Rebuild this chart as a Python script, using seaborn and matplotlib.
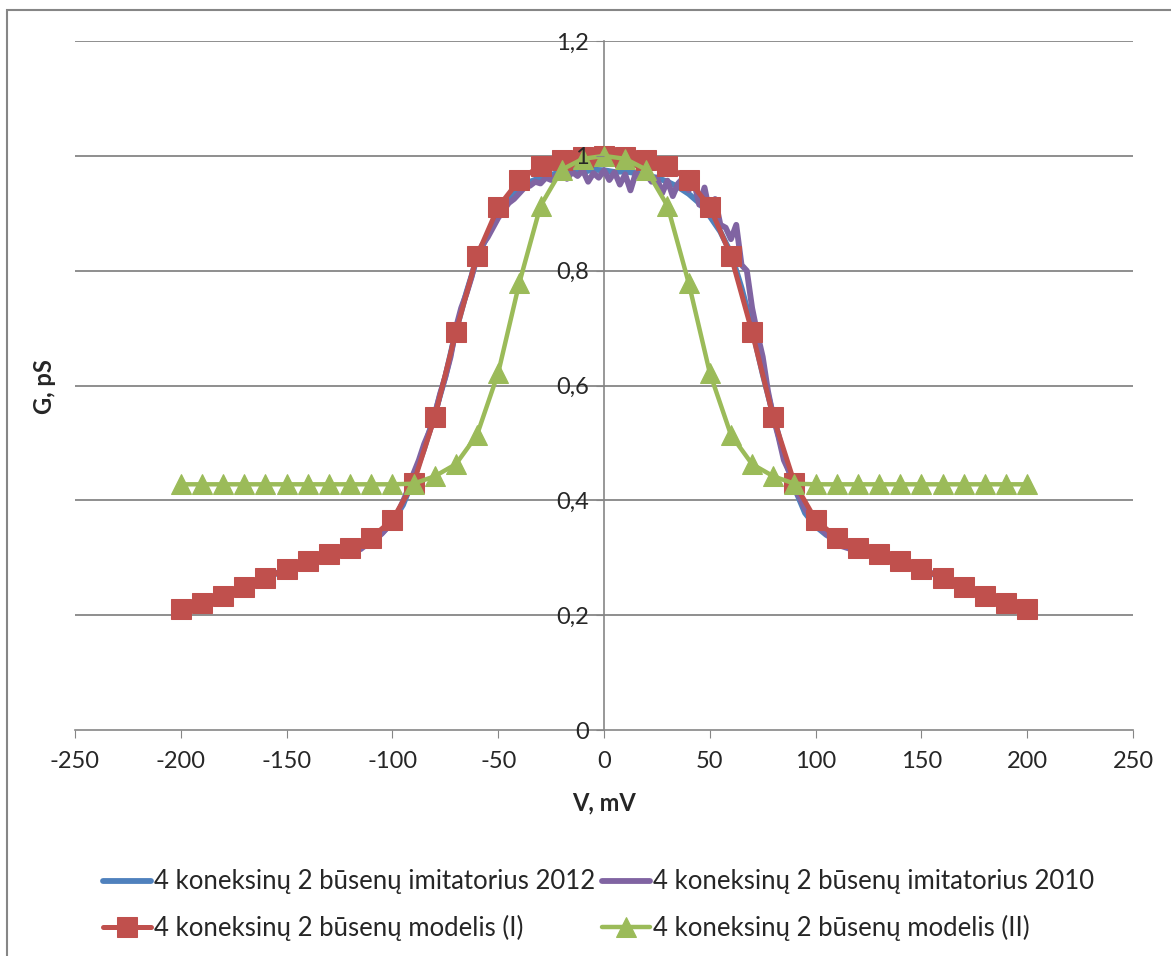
import matplotlib.pyplot as plt
import matplotlib.patches as patches
import numpy as np
import pandas as pd
import seaborn as sns

# Style
sns.set_style("white")
plt.rcParams['font.family'] = ['Lato', 'DejaVu Sans']
plt.rcParams['axes.unicode_minus'] = False

# Series names
labels = ['4 koneksinų 2 būsenų imitatorius 2012',
          '4 koneksinų 2 būsenų imitatorius 2010',
          '4 koneksinų 2 būsenų modelis (I)',
          '4 koneksinų 2 būsenų modelis (II)']
colors = ['#4F81BD', '#8064A2', '#C0504D', '#9BBB59']

# Imitator 2012 (read every 5 mV)
v_2012 = np.arange(-200, 201, 5)
g_2012 = [0.211, 0.216, 0.222, 0.228, 0.235, 0.242, 0.249, 0.257,
          0.265, 0.272, 0.280, 0.288, 0.295, 0.301, 0.307, 0.312,
          0.317, 0.321, 0.330, 0.343, 0.362, 0.392, 0.438, 0.490,
          0.550, 0.615, 0.695, 0.762, 0.822, 0.862, 0.900, 0.928,
          0.943, 0.955, 0.962, 0.967, 0.972, 0.974, 0.972, 0.976,
          0.975, 0.972, 0.973, 0.970, 0.966, 0.962, 0.955, 0.946,
          0.934, 0.918, 0.895, 0.868, 0.830, 0.770, 0.700, 0.620,
          0.548, 0.478, 0.422, 0.378, 0.355, 0.340, 0.330, 0.322,
          0.316, 0.311, 0.306, 0.300, 0.294, 0.288, 0.280, 0.272,
          0.265, 0.257, 0.249, 0.242, 0.235, 0.228, 0.222, 0.216,
          0.211]

# Imitator 2010 (read every 2.5 mV)
v_2010 = np.arange(-200, 200.1, 2.5)
g_2010 = [0.212, 0.214, 0.217, 0.219, 0.222, 0.226, 0.229, 0.232,
          0.236, 0.240, 0.243, 0.247, 0.251, 0.255, 0.258, 0.262,
          0.266, 0.270, 0.273, 0.277, 0.281, 0.285, 0.288, 0.292,
          0.295, 0.298, 0.300, 0.303, 0.306, 0.309, 0.311, 0.314,
          0.316, 0.318, 0.315, 0.322, 0.330, 0.334, 0.342, 0.352,
          0.362, 0.378, 0.398, 0.420, 0.447, 0.470, 0.498, 0.520,
          0.548, 0.585, 0.615, 0.650, 0.700, 0.735, 0.760, 0.790,
          0.828, 0.845, 0.858, 0.875, 0.892, 0.905, 0.918, 0.925,
          0.935, 0.945, 0.948, 0.955, 0.952, 0.962, 0.958, 0.966,
          0.968, 0.960, 0.972, 0.965, 0.975, 0.955, 0.970, 0.962,
          0.975, 0.958, 0.972, 0.950, 0.968, 0.940, 0.970, 0.962,
          0.968, 0.955, 0.962, 0.935, 0.957, 0.930, 0.952, 0.962,
          0.940, 0.955, 0.915, 0.945, 0.900, 0.925, 0.880, 0.875,
          0.855, 0.880, 0.810, 0.800, 0.735, 0.690, 0.650, 0.590,
          0.545, 0.510, 0.470, 0.450, 0.420, 0.405, 0.385, 0.372,
          0.362, 0.350, 0.342, 0.333, 0.326, 0.320, 0.317, 0.314,
          0.316, 0.313, 0.311, 0.309, 0.306, 0.303, 0.300, 0.297,
          0.295, 0.292, 0.288, 0.285, 0.281, 0.277, 0.273, 0.270,
          0.266, 0.262, 0.258, 0.255, 0.251, 0.247, 0.243, 0.240,
          0.236, 0.232, 0.229, 0.226, 0.222, 0.219, 0.216, 0.214,
          0.212]

# Models, every 10 mV
v_model = np.arange(-200, 201, 10)
g_model1 = [0.211, 0.221, 0.234, 0.249, 0.265, 0.281, 0.295, 0.306, 0.317, 0.335,
            0.366, 0.430, 0.545, 0.693, 0.826, 0.911, 0.958, 0.983, 0.993, 0.998,
            1.000,
            0.998, 0.993, 0.983, 0.958, 0.911, 0.826, 0.693, 0.545, 0.430, 0.366,
            0.335, 0.317, 0.306, 0.295, 0.281, 0.265, 0.249, 0.234, 0.221, 0.211]
g_model2 = [0.428, 0.428, 0.428, 0.428, 0.428, 0.428, 0.428, 0.428, 0.428, 0.428,
            0.428, 0.429, 0.442, 0.463, 0.514, 0.622, 0.779, 0.913, 0.976, 0.995,
            1.000,
            0.995, 0.976, 0.913, 0.779, 0.622, 0.514, 0.463, 0.442, 0.429, 0.428,
            0.428, 0.428, 0.428, 0.428, 0.428, 0.428, 0.428, 0.428, 0.428, 0.428]

y_ticks = [0, 0.2, 0.4, 0.6, 0.8, 1.0, 1.2]
y_tick_labels = ['0', '0,2', '0,4', '0,6', '0,8', '1', '1,2']
x_ticks = [-250, -200, -150, -100, -50, 0, 50, 100, 150, 200, 250]

fig = plt.figure(figsize=(11.71, 9.56), dpi=100)
ax = fig.add_axes([0.064, 0.2364, 0.9036, 0.7206])

# Horizontal gridlines behind everything
for yv in y_ticks[1:]:
    ax.axhline(yv, color='#868686', linewidth=1.3, zorder=0.5)

# Plot the four series
sns.lineplot(x=v_2012, y=g_2012, ax=ax, color=colors[0], linewidth=4.2, label=labels[0])
sns.lineplot(x=v_2010, y=g_2010, ax=ax, color=colors[1], linewidth=4.2, label=labels[1])
sns.lineplot(x=v_model, y=g_model1, ax=ax, color=colors[2], linewidth=3.6,
             marker='s', markersize=14, markeredgecolor=colors[2], label=labels[2])
sns.lineplot(x=v_model, y=g_model2, ax=ax, color=colors[3], linewidth=3.2,
             marker='^', markersize=14, markeredgecolor=colors[3], label=labels[3])

# Axes: y axis crosses at x = 0
ax.set_xlim(-250, 250)
ax.set_ylim(0, 1.2)
ax.spines['left'].set_position(('data', 0))
for s in ['top', 'right']:
    ax.spines[s].set_visible(False)
for s in ['left', 'bottom']:
    ax.spines[s].set_color('#868686')
    ax.spines[s].set_linewidth(1.2)
    ax.spines[s].set_zorder(0.6)
ax.set_yticks(y_ticks)
ax.set_yticklabels(y_tick_labels)
ax.set_xticks(x_ticks)
ax.tick_params(axis='both', direction='out', length=6, color='#868686',
               labelsize=17, left=True, bottom=True)
ax.tick_params(axis='y', pad=5)
ax.tick_params(axis='x', pad=9)
ax.grid(False)
ax.yaxis.set_zorder(3)

ax.set_xlabel('V, mV', fontsize=17, fontweight='bold', labelpad=14)
ax.set_ylabel('')
fig.text(0.038, 0.596, 'G, pS', rotation=90, fontsize=17, fontweight='bold',
         ha='center', va='center')

# Legend below, two columns
handles, lbls = ax.get_legend_handles_labels()
ax.get_legend().remove()
order = [0, 2, 1, 3]
fig.legend([handles[i] for i in order], [lbls[i] for i in order],
           loc='center', bbox_to_anchor=(0.511, 0.053), ncol=2, frameon=False,
           fontsize=18.5, handlelength=1.9, handletextpad=0.1, columnspacing=0.25,
           labelspacing=0.8, markerscale=1.0)

# Chart area border (left and top visible)
fig.patches.append(patches.Rectangle((0.006, -0.1), 1.2, 1.0895, fill=False,
                                     edgecolor='#868686', linewidth=1.5,
                                     transform=fig.transFigure))

plt.savefig('out.png', dpi=100)
